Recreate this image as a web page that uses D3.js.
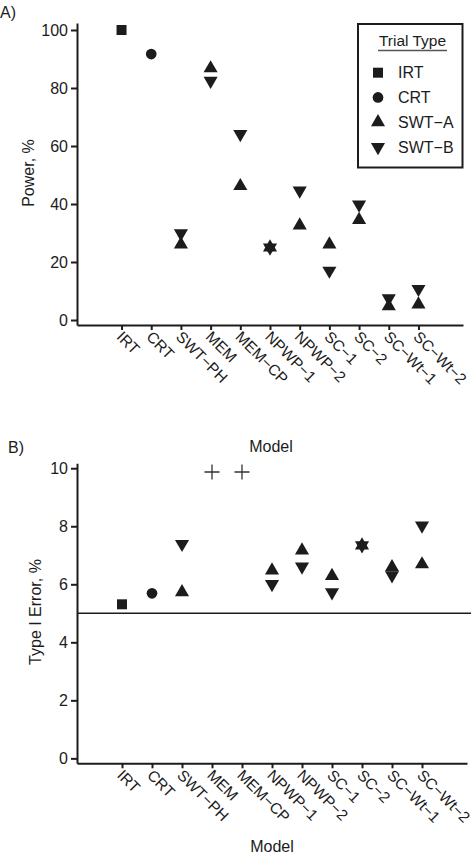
<!DOCTYPE html>
<html>
<head>
<meta charset="utf-8">
<script src="https://cdn.jsdelivr.net/npm/d3@7"></script>
<style>
  html, body { margin: 0; padding: 0; background: #fff; }
  svg { display: block; font-family: "Liberation Sans", Arial, sans-serif; }
</style>
</head>
<body>
<svg id="chart" width="475" height="855"></svg>
<script>
// ---------- data ----------
const models = ["IRT", "CRT", "SWT\u2212PH", "MEM", "MEM\u2212CP", "NPWP\u22121", "NPWP\u22122", "SC\u22121", "SC\u22122", "SC\u2212Wt\u22121", "SC\u2212Wt\u22122"];
const trialTypes = ["IRT", "CRT", "SWT\u2212A", "SWT\u2212B"];
const powerTicks = [0, 20, 40, 60, 80, 100];
const errorTicks = [0, 2, 4, 6, 8, 10];

// Panel A: Power, %
const powerIRT  = [100, null, null, null, null, null, null, null, null, null, null];
const powerCRT  = [null, 91.7, null, null, null, null, null, null, null, null, null];
const powerSWTA = [null, null, 26.1, 86.8, 46.2, 25.0, 32.6, 26.1, 34.5, 4.8, 5.4];
const powerSWTB = [null, null, 29.9, 82.5, 64.1, 25.0, 44.6, 17.0, 39.8, 7.5, 10.7];

// Panel B: Type I Error, %
const errorIRT  = [5.31, null, null, null, null, null, null, null, null, null, null];
const errorCRT  = [null, 5.69, null, null, null, null, null, null, null, null, null];
const errorSWTA = [null, null, 5.73, null, null, 6.48, 7.17, 6.29, 7.34, 6.59, 6.69];
const errorSWTB = [null, null, 7.39, null, null, 6.01, 6.61, 5.72, 7.34, 6.31, 8.02];
const errorOff  = [null, null, null, 9.87, 9.87, null, null, null, null, null, null];
const nominalError = 5;

// ---------- drawing ----------
const svg = d3.select("#chart");
const ink = "#1c1c1c";

const shapes = {
  "IRT":     { type: d3.symbolSquare, size: 100, rot: 0 },
  "CRT":     { type: d3.symbolCircle, size: 90, rot: 0 },
  "SWT\u2212A": { type: d3.symbolTriangle, size: 86, rot: 0 },
  "SWT\u2212B": { type: d3.symbolTriangle, size: 86, rot: 180 }
};

function drawMarker(g, key, x, y) {
  const s = shapes[key];
  g.append("path")
    .attr("d", d3.symbol().type(s.type).size(s.size)())
    .attr("transform", `translate(${x},${y}) rotate(${s.rot})`)
    .attr("fill", ink);
}

function panel(cfg) {
  const g = svg.append("g");
  const x = d3.scaleLinear().domain([-0.5, 12.5]).range([cfg.left, cfg.right]);
  const y = d3.scaleLinear().domain(cfg.yDomain).range([cfg.bottom, cfg.top]);

  // reference line
  if (cfg.refLine != null) {
    g.append("line")
      .attr("x1", cfg.left).attr("x2", cfg.refRight)
      .attr("y1", y(cfg.refLine)).attr("y2", y(cfg.refLine))
      .attr("stroke", ink).attr("stroke-width", 1.6);
  }

  // y axis
  const ya = g.append("g")
    .attr("transform", `translate(${cfg.left},0)`)
    .call(d3.axisLeft(y).tickValues(cfg.yTicks).tickSize(6).tickSizeOuter(0).tickPadding(3));
  // x axis
  const xa = g.append("g")
    .attr("transform", `translate(0,${cfg.bottom})`)
    .call(d3.axisBottom(x).tickValues(d3.range(1, models.length + 1)).tickSize(5).tickSizeOuter(0).tickFormat(""));
  [ya, xa].forEach(a => {
    a.select(".domain").attr("stroke", ink).attr("stroke-width", 2);
    a.selectAll(".tick line").attr("stroke", ink).attr("stroke-width", 2);
  });
  ya.selectAll(".tick text")
    .attr("font-size", 16).attr("fill", ink)
    .attr("font-family", "Liberation Sans, Arial, sans-serif");

  // rotated x labels
  g.append("g").selectAll("text")
    .data(models)
    .join("text")
    .attr("transform", (d, i) => `translate(${x(i + 1) - 2},${cfg.bottom + 9}) rotate(45)`)
    .attr("dy", "0.35em")
    .attr("text-anchor", "start")
    .attr("font-size", 15.5)
    .attr("fill", ink)
    .text(d => d);

  // titles
  g.append("text")
    .attr("x", cfg.xTitleX).attr("y", cfg.xTitleY)
    .attr("text-anchor", "middle").attr("font-size", 16).attr("fill", ink)
    .text("Model");
  g.append("text")
    .attr("transform", `translate(${cfg.yTitleX},${cfg.yTitleY}) rotate(-90)`)
    .attr("text-anchor", "middle").attr("font-size", 16).attr("fill", ink)
    .text(cfg.yTitle);
  g.append("text")
    .attr("x", cfg.labelX).attr("y", cfg.labelY)
    .attr("font-size", 16).attr("fill", ink)
    .text(cfg.label);

  // markers
  const marks = g.append("g");
  cfg.series.forEach(([key, vals]) => {
    vals.forEach((v, i) => {
      if (v != null) drawMarker(marks, key, x(i + 1), y(v));
    });
  });
  if (cfg.plus) {
    cfg.plus.forEach((v, i) => {
      if (v == null) return;
      const cx = x(i + 1), cy = y(v);
      marks.append("path")
        .attr("d", `M${cx - 7.5},${cy}H${cx + 7.5}M${cx},${cy - 7.5}V${cy + 7.5}`)
        .attr("stroke", "#333").attr("stroke-width", 1.3).attr("fill", "none");
    });
  }
  return g;
}

panel({
  left: 77, right: 463, top: 23, bottom: 325,
  yDomain: [-1.72, 102.41], yTicks: powerTicks,
  yTitle: "Power, %", yTitleX: 34, yTitleY: 173,
  xTitleX: 271, xTitleY: 452,
  label: "A)", labelX: 0, labelY: 18,
  series: [["IRT", powerIRT], ["CRT", powerCRT], ["SWT\u2212A", powerSWTA], ["SWT\u2212B", powerSWTB]]
});

panel({
  left: 77, right: 467, top: 463.3, bottom: 763.3,
  yDomain: [-0.17, 10.17], yTicks: errorTicks,
  yTitle: "Type I Error, %", yTitleX: 41, yTitleY: 612,
  xTitleX: 272, xTitleY: 852,
  label: "B)", labelX: 8, labelY: 453,
  refLine: nominalError, refRight: 471,
  series: [["IRT", errorIRT], ["CRT", errorCRT], ["SWT\u2212A", errorSWTA], ["SWT\u2212B", errorSWTB]],
  plus: errorOff
});

// legend
const lg = svg.append("g");
lg.append("rect")
  .attr("x", 358).attr("y", 24).attr("width", 104.5).attr("height", 143.5)
  .attr("fill", "#fff").attr("stroke", ink).attr("stroke-width", 2);
lg.append("text")
  .attr("x", 412.5).attr("y", 46).attr("text-anchor", "middle")
  .attr("font-size", 15.5).attr("fill", ink).text("Trial Type");
lg.append("line")
  .attr("x1", 378).attr("x2", 447).attr("y1", 50.5).attr("y2", 50.5)
  .attr("stroke", "#555").attr("stroke-width", 1.5);
const legendY = d3.scalePoint().domain(trialTypes).range([72.7, 147]);
trialTypes.forEach(t => {
  drawMarker(lg, t, 378, legendY(t));
  lg.append("text")
    .attr("x", 398).attr("y", legendY(t)).attr("dy", "0.36em")
    .attr("font-size", 16).attr("fill", ink).text(t);
});
</script>
</body>
</html>
